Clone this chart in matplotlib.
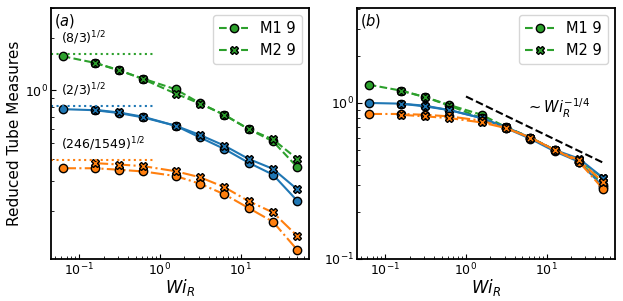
import matplotlib
matplotlib.use("Agg")
import matplotlib.pyplot as plt
from matplotlib.ticker import NullFormatter

# ---------------- data ----------------
wi_m1 = [0.0625, 0.15625, 0.3125, 0.625, 1.5625, 3.125, 6.25, 12.5, 25, 50]
wi_m2 = [0.15625, 0.3125, 0.625, 1.5625, 3.125, 6.25, 12.5, 25, 50]

# panel (a) raw reduced measures
a_green_m1 = [1.578, 1.445, 1.306, 1.169, 1.016, 0.844, 0.723, 0.598, 0.508, 0.360]
a_green_m2 = [1.445, 1.311, 1.160, 0.959, 0.840, 0.723, 0.598, 0.521, 0.402]
a_blue_m1 = [0.780, 0.769, 0.740, 0.698, 0.625, 0.535, 0.459, 0.382, 0.326, 0.230]
a_blue_m2 = [0.773, 0.746, 0.704, 0.625, 0.553, 0.480, 0.402, 0.352, 0.268]
a_orange_m1 = [0.355, 0.355, 0.348, 0.340, 0.320, 0.289, 0.251, 0.209, 0.174, 0.1196]
a_orange_m2 = [0.380, 0.373, 0.365, 0.341, 0.315, 0.276, 0.229, 0.197, 0.144]

# theoretical plateaus
plateau_vals = [(8 / 3) ** 0.5, (2 / 3) ** 0.5, (246 / 1549) ** 0.5]
plateau_texts = [r"(8/3)$^{1/2}$", r"(2/3)$^{1/2}$", r"(246/1549)$^{1/2}$"]

# panel (b) normalised measures
b_green_m1 = [1.31, 1.20, 1.09, 0.97, 0.84, 0.70, 0.60, 0.50, 0.42, 0.30]
b_green_m2 = [1.20, 1.09, 0.96, 0.80, 0.70, 0.60, 0.50, 0.43, 0.33]
b_blue_m1 = [1.00, 0.99, 0.95, 0.90, 0.80, 0.69, 0.59, 0.49, 0.42, 0.29]
b_blue_m2 = [0.99, 0.96, 0.90, 0.80, 0.70, 0.60, 0.50, 0.44, 0.33]
b_orange_m1 = [0.85, 0.85, 0.84, 0.82, 0.77, 0.69, 0.60, 0.50, 0.42, 0.28]
b_orange_m2 = [0.84, 0.82, 0.80, 0.75, 0.69, 0.60, 0.50, 0.43, 0.31]

# scaling guide
guide_x = [1.0, 50.0]
guide_y = [1.1, 1.1 * 50 ** -0.25]

legend_labels = ["M1 9", "M2 9"]

GREEN, BLUE, ORANGE = "#2ca02c", "#1f77b4", "#ff7f0e"

# ---------------- figure ----------------
fig = plt.figure(figsize=(6.23, 3.01), dpi=100)
ax_a = fig.add_axes([51 / 623, 42 / 301, 258 / 623, 251 / 301])
ax_b = fig.add_axes([357 / 623, 42 / 301, 258 / 623, 251 / 301])

mk = dict(markersize=6, markeredgecolor="black", markeredgewidth=1.0, lw=1.5)


def draw(ax, g1, g2, b1, b2, o1, o2):
    ax.plot(wi_m1, g1, ls="--", marker="o", color=GREEN, label=legend_labels[0], **mk)
    ax.plot(wi_m2, g2, ls="--", marker="X", color=GREEN, label=legend_labels[1], **mk)
    ax.plot(wi_m1, b1, ls="-", marker="o", color=BLUE, **mk)
    ax.plot(wi_m2, b2, ls="-", marker="X", color=BLUE, **mk)
    ax.plot(wi_m1, o1, ls="-.", marker="o", color=ORANGE, **mk)
    ax.plot(wi_m2, o2, ls="-.", marker="X", color=ORANGE, **mk)


draw(ax_a, a_green_m1, a_green_m2, a_blue_m1, a_blue_m2, a_orange_m1, a_orange_m2)
draw(ax_b, b_green_m1, b_green_m2, b_blue_m1, b_blue_m2, b_orange_m1, b_orange_m2)

for val, txt, c in zip(plateau_vals, plateau_texts, [GREEN, BLUE, ORANGE]):
    ax_a.axhline(val, xmin=0, xmax=0.4, ls=":", color=c, lw=1.5)
    ax_a.annotate(txt, xy=(wi_m1[0], val), xytext=(-1, 5), textcoords="offset points",
                  ha="left", va="bottom", fontsize=9)

ax_b.plot(guide_x, guide_y, ls="--", color="black", lw=1.5)
ax_b.text(5.5, 0.93, r"$\sim Wi_R^{-1/4}$", fontsize=10.5, ha="left", va="center")

for ax, lab in [(ax_a, r"$(a)$"), (ax_b, r"$(b)$")]:
    ax.set_xscale("log")
    ax.set_yscale("log")
    ax.set_xlim(0.0448, 69.8)
    ax.set_xlabel(r"$Wi_R$", fontsize=12, labelpad=-1)
    ax.tick_params(which="both", direction="in", labelsize=9, pad=2)
    ax.yaxis.set_minor_formatter(NullFormatter())
    for s in ax.spines.values():
        s.set_linewidth(1.3)
    ax.text(0.01, 0.985, lab, transform=ax.transAxes, ha="left", va="top", fontsize=10.5)
    ax.legend(loc="upper right", fontsize=10.5)

ax_a.set_ylim(0.106, 3.0)
ax_b.set_ylim(0.1, 4.06)
ax_a.set_ylabel("Reduced Tube Measures", fontsize=11, labelpad=2)

fig.savefig("out.png", dpi=100)
